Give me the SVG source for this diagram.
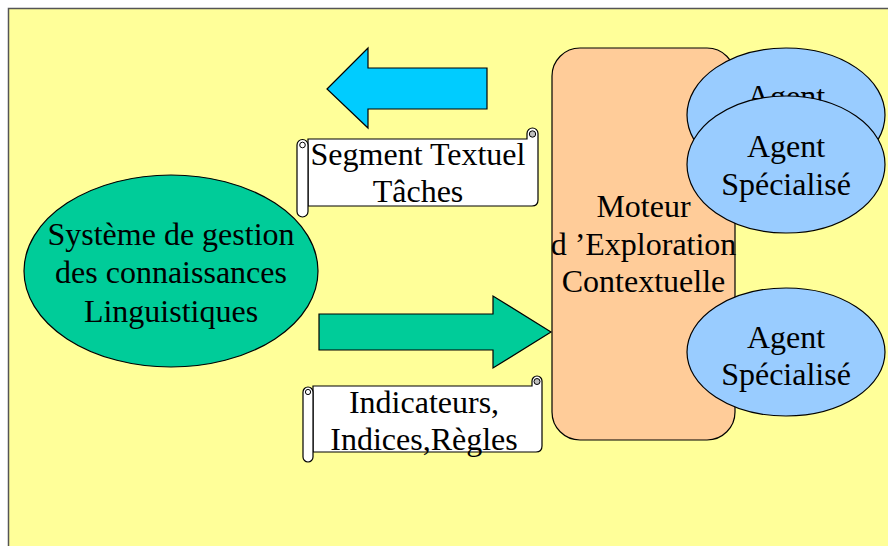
<svg xmlns="http://www.w3.org/2000/svg" width="888" height="546" viewBox="0 0 888 546">
<style>
.t{font-family:"Liberation Serif","Times New Roman",serif;font-size:32px;fill:#000;text-anchor:middle}
.ol{stroke:#000;stroke-width:1.2}
.scroll{fill:#fff;stroke:#000;stroke-width:1.2}
.curl{fill:#c0c0c0;stroke:#000;stroke-width:1}
</style>
<rect x="0" y="0" width="888" height="546" fill="#fff"/>
<rect x="8.5" y="8.5" width="900" height="560" fill="#FFFF99" stroke="#555" stroke-width="1.5"/>
<g id="connectors">
<polygon class="ol" fill="#00CCFF" points="327,89 368,48 368,68 487,68 487,109 368,109 368,128"/>
<polygon class="ol" fill="#00CC99" points="319,314 493,314 493,296 551,332 493,368 493,350 319,350"/>
</g>
<g id="scroll-top">
<path class="scroll" d="M308,139 H527 V133.5 A5.5 5.5 0 0 1 538 133.5 V200 Q538 206 532 206 H308 Z"/>
<circle class="curl" cx="532.5" cy="134" r="3.2"/>
<path class="scroll" d="M297,145 A5.5 5.5 0 0 1 308 145 V211.5 A5.5 5.5 0 0 1 297 211.5 Z"/>
<circle cx="302.5" cy="145" r="2.8" fill="#fff" stroke="#000" stroke-width="1"/>
<text class="t" x="418" y="165">Segment Textuel</text>
<text class="t" x="418" y="202">Tâches</text>
</g>
<g id="scroll-bottom">
<path class="scroll" d="M313,386 H532 V381 A5 5 0 0 1 542 381 V446 Q542 452 536 452 H313 Z"/>
<circle class="curl" cx="537" cy="381.5" r="3"/>
<path class="scroll" d="M303,392 A5 5 0 0 1 313 392 V457 A5 5 0 0 1 303 457 Z"/>
<circle cx="308" cy="392" r="2.6" fill="#fff" stroke="#000" stroke-width="1"/>
<text class="t" x="424" y="413">Indicateurs,</text>
<text class="t" x="424" y="450">Indices,Règles</text>
</g>
<g id="systeme">
<ellipse class="ol" fill="#00CC99" cx="171" cy="271" rx="147" ry="96"/>
<text class="t" x="171" y="245">Système de gestion</text>
<text class="t" x="171" y="283">des connaissances</text>
<text class="t" x="171" y="322">Linguistiques</text>
</g>
<g id="moteur">
<rect class="ol" fill="#FFCC99" x="552" y="48" width="183" height="392" rx="28" ry="28"/>
<text class="t" x="643.5" y="217">Moteur</text>
<text class="t" x="643.5" y="255">d ’Exploration</text>
<text class="t" x="643.5" y="292">Contextuelle</text>
</g>
<g id="agent-back">
<ellipse class="ol" fill="#99CCFF" cx="786" cy="115" rx="99" ry="67"/>
<text class="t" x="786" y="107">Agent</text>
</g>
<g id="agent-front">
<ellipse class="ol" fill="#99CCFF" cx="786" cy="164.5" rx="99" ry="68.5"/>
<text class="t" x="786" y="157">Agent</text>
<text class="t" x="786" y="195">Spécialisé</text>
</g>
<g id="agent-bottom">
<ellipse class="ol" fill="#99CCFF" cx="786" cy="352" rx="99" ry="64"/>
<text class="t" x="786" y="348">Agent</text>
<text class="t" x="786" y="385">Spécialisé</text>
</g>
</svg>
